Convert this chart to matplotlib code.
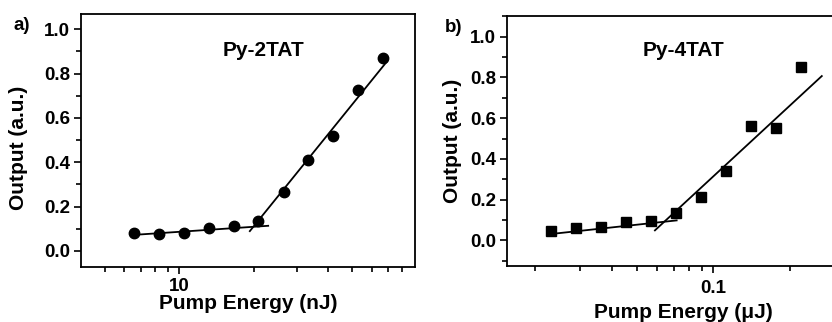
import numpy as np
import matplotlib
matplotlib.use('Agg')
import matplotlib.pyplot as plt
from matplotlib import ticker

plt.rcParams['font.family'] = ['Liberation Sans', 'DejaVu Sans']
plt.rcParams['font.weight'] = 'bold'

# panel a) Py-2TAT, pump energy in nJ
energy_a = [6.56, 8.29, 10.48, 13.16, 16.6, 20.9, 26.5, 33.3, 42.0, 53.1, 67.0]
output_a = [0.081, 0.074, 0.079, 0.104, 0.112, 0.134, 0.264, 0.41, 0.518, 0.724, 0.872]
fit_low_a_x = [6.36, 22.9]
fit_low_a_y = [0.071, 0.113]
fit_high_a_x = [19.3, 69.2]
fit_high_a_y = [0.089, 0.854]

# panel b) Py-4TAT, pump energy in uJ
energy_b = [0.0231, 0.0289, 0.0361, 0.0453, 0.0568, 0.0712, 0.0892, 0.1119, 0.140, 0.176, 0.220]
output_b = [0.044, 0.062, 0.066, 0.090, 0.097, 0.136, 0.213, 0.339, 0.564, 0.551, 0.852]
fit_low_b_x = [0.0238, 0.0718]
fit_low_b_y = [0.033, 0.098]
fit_high_b_x = [0.059, 0.2665]
fit_high_b_y = [0.049, 0.807]

fig = plt.figure(figsize=(8.32, 3.22), dpi=100)
ax_a = fig.add_axes([81 / 832, 55 / 322, 334 / 832, 253 / 322])
ax_b = fig.add_axes([507 / 832, 56 / 322, 352 / 832, 250 / 322])


def style_axes(ax, xpad):
    for sp in ax.spines.values():
        sp.set_linewidth(1.3)
    ax.tick_params(which='major', direction='out', length=5, width=1.2,
                   labelsize=13.5, pad=3)
    ax.tick_params(which='minor', direction='out', length=3.5, width=1.2)
    ax.tick_params(axis='x', which='major', pad=xpad)
    ax.yaxis.set_major_locator(ticker.MultipleLocator(0.2))
    ax.yaxis.set_minor_locator(ticker.MultipleLocator(0.1))
    ax.yaxis.set_major_formatter(ticker.FormatStrFormatter('%.1f'))
    ax.xaxis.set_minor_formatter(ticker.NullFormatter())


# a)
ax_a.plot(energy_a, output_a, 'o', color='black', markersize=7.5)
ax_a.plot(fit_low_a_x, fit_low_a_y, '-', color='black', lw=1.3)
ax_a.plot(fit_high_a_x, fit_high_a_y, '-', color='black', lw=1.3)
ax_a.set_xscale('log')
ax_a.set_xlim(4, 90)
ax_a.set_ylim(-0.073, 1.069)
style_axes(ax_a, 3)
ax_a.set_xticks([10])
ax_a.set_xticklabels(['10'])
ax_a.set_xticks([5, 6, 7, 8, 9, 20, 30, 40, 50, 60, 70, 80], minor=True)
ax_a.set_xlabel('Pump Energy (nJ)', fontsize=15, fontweight='bold')
ax_a.set_ylabel('Output (a.u.)', fontsize=15, fontweight='bold')
ax_a.xaxis.set_label_coords(0.5, -0.108)
ax_a.yaxis.set_label_coords(-0.159, 0.472)
ax_a.text(0.545, 0.855, 'Py-2TAT', transform=ax_a.transAxes, fontsize=15,
          fontweight='bold', ha='center', va='center')

# b)
ax_b.plot(energy_b, output_b, 's', color='black', markersize=6.5)
ax_b.plot(fit_low_b_x, fit_low_b_y, '-', color='black', lw=1.3)
ax_b.plot(fit_high_b_x, fit_high_b_y, '-', color='black', lw=1.3)
ax_b.set_xscale('log')
ax_b.set_xlim(0.0155, 0.373)
ax_b.set_ylim(-0.126, 1.102)
style_axes(ax_b, 5)
ax_b.set_xticks([0.1])
ax_b.set_xticklabels(['0.1'])
ax_b.set_xticks([0.02, 0.03, 0.04, 0.05, 0.06, 0.07, 0.08, 0.09, 0.2, 0.3], minor=True)
ax_b.set_xlabel('Pump Energy (μJ)', fontsize=15, fontweight='bold')
ax_b.set_ylabel('Output (a.u.)', fontsize=15, fontweight='bold')
ax_b.xaxis.set_label_coords(0.5, -0.146)
ax_b.yaxis.set_label_coords(-0.128, 0.5)
ax_b.text(0.5, 0.864, 'Py-4TAT', transform=ax_b.transAxes, fontsize=15,
          fontweight='bold', ha='center', va='center')

fig.text(22 / 832, 1 - 25 / 322, 'a)', fontsize=13.5, fontweight='bold',
         ha='center', va='center')
fig.text(454 / 832, 1 - 27 / 322, 'b)', fontsize=13.5, fontweight='bold',
         ha='center', va='center')

fig.savefig('out.png', dpi=100)
